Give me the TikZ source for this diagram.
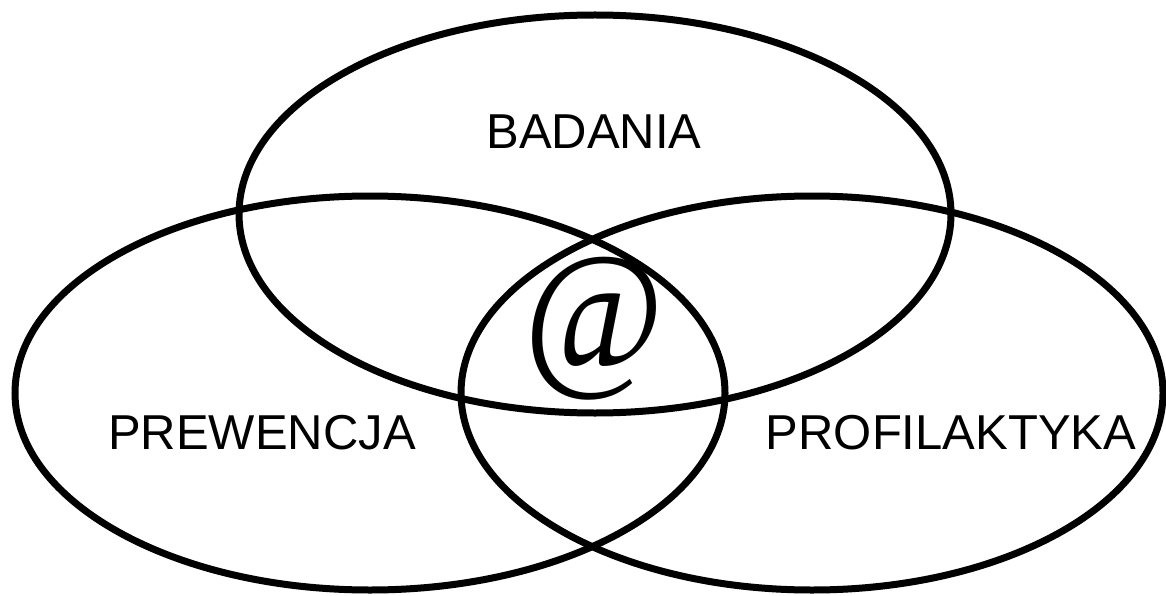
\documentclass[tikz,border=0pt]{standalone}
\usepackage{graphicx}
\usepackage{fontspec}
\setmainfont{Liberation Sans}
\newfontfamily\serifat{Liberation Serif}
\begin{document}
\begin{tikzpicture}[x=1pt,y=-1pt,
  ring/.style={draw=black,line width=7pt},
  lbl/.style={inner sep=0pt,font=\fontsize{49}{50}\selectfont}]
\useasboundingbox (0,0) rectangle (1166,596);
\draw[ring] (595,214) ellipse [x radius=356pt, y radius=199pt];
\draw[ring] (370,393) ellipse [x radius=355pt, y radius=197pt];
\draw[ring] (812,393) ellipse [x radius=351pt, y radius=197pt];
\node[lbl] (badania) at (594,132) {BADANIA};
\node[lbl] (prewencja) at (262,433) {PREWENCJA};
\node[lbl] (profil) at (951,433) {PROFILAKTYKA};
\node[inner sep=0pt,font=\serifat\fontsize{152}{152}\selectfont] (at) at (594,329) {\scalebox{1}[1.1]{@}};
\end{tikzpicture}
\end{document}
